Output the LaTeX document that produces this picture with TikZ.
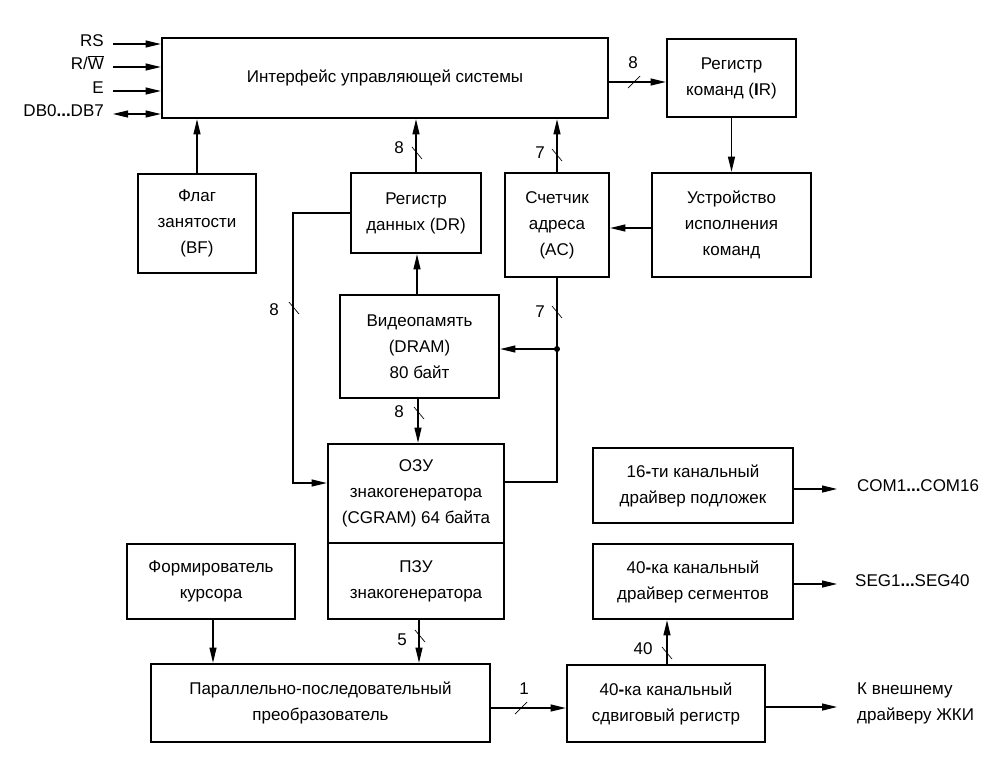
\documentclass[tikz,border=0pt]{standalone}
\usepackage{fontspec}
\setmainfont{Liberation Sans}
\usetikzlibrary{arrows.meta}
\begin{document}
\begin{tikzpicture}[x=1pt,y=-1pt,
  box/.style={draw, line width=2.6pt, align=center, inner sep=0pt, font=\fontsize{17}{26}\selectfont},
  conn/.style={line width=1.2pt},
  arr/.style={conn, -{Triangle[length=15pt,width=7pt]}},
  darr/.style={conn, {Triangle[length=15pt,width=7pt]}-{Triangle[length=15pt,width=7pt]}},
  lbl/.style={font=\fontsize{17}{26}\selectfont, inner sep=0pt, align=left},
  slash/.style={line width=0.7pt}]
\useasboundingbox (0,0) rectangle (1002,764);
\newcommand\slv[1]{\draw[slash] ([shift={(-5,-6)}]#1) -- ([shift={(5,6)}]#1);}
\newcommand\slh[1]{\draw[slash] ([shift={(-6,6)}]#1) -- ([shift={(6,-6)}]#1);}

% boxes
\node[box, minimum width=446pt, minimum height=80pt] (iface) at (385,78) {Интерфейс управляющей системы};
\node[box, minimum width=129pt, minimum height=78pt] (ir) at (731.5,78) {Регистр\\команд (\textbf{I}R)};
\node[box, minimum width=118pt, minimum height=99pt] (bf) at (197,223.5) {Флаг\\занятости\\(BF)};
\node[box, minimum width=130pt, minimum height=80pt] (dr) at (416,213) {Регистр\\данных (DR)};
\node[box, minimum width=104pt, minimum height=104pt] (ac) at (557,225) {Счетчик\\адреса\\(AC)};
\node[box, minimum width=159pt, minimum height=104pt] (exec) at (731.5,225) {Устройство\\исполнения\\команд};
\node[box, minimum width=159pt, minimum height=103pt] (vid) at (419.5,346.5) {Видеопамять\\(DRAM)\\80 байт};
\node[box, minimum width=176pt, minimum height=99pt] (ozu) at (416,493.5) {ОЗУ\\знакогенератора\\(CGRAM) 64 байта};
\node[box, minimum width=176pt, minimum height=76pt] (pzu) at (416,581) {ПЗУ\\знакогенератора};
\node[box, minimum width=168pt, minimum height=75pt] (cur) at (211,581.5) {Формирователь\\курсора};
\node[box, minimum width=339pt, minimum height=78pt] (par) at (320.5,703) {Параллельно-последовательный\\преобразователь};
\node[box, minimum width=198pt, minimum height=77pt] (shift) at (666,703.5) {40\textbf{-}ка канальный\\сдвиговый регистр};
\node[box, minimum width=200pt, minimum height=75pt] (d16) at (693,485.5) {16\textbf{-}ти канальный\\драйвер подложек};
\node[box, minimum width=200pt, minimum height=75pt] (d40) at (693,581.5) {40\textbf{-}ка канальный\\драйвер сегментов};

% input signals
\coordinate (rs) at (113,44);
\coordinate (rw) at (113,67);
\coordinate (en) at (113,91);
\coordinate (db) at (113,114);
\node[lbl, anchor=mid east] (rst) at (104,44) {RS};
\node[lbl, anchor=mid east] (rwt) at (104,67) {R/$\overline{\hbox{W}}$};
\node[lbl, anchor=mid east] (ent) at (104,91) {E};
\node[lbl, anchor=mid east] (dbt) at (104,114) {DB0\textbf{...}DB7};
\draw[arr] (rs) -- (rs -| iface.west);
\draw[arr] (rw) -- (rw -| iface.west);
\draw[arr] (en) -- (en -| iface.west);
\draw[darr] (db) -- (db -| iface.west);

% interface -> IR
\coordinate (a1) at (iface.east |- 0,82);
\draw[arr] (a1) -- (a1 -| ir.west);
\coordinate (s1) at (634,82); \slh{s1}
\node[lbl] (l1) at (633,63) {8};

% IR -> exec
\draw[arr] (ir.south) -- (exec.north);
% exec -> AC
\coordinate (a2) at (exec.west |- 0,228);
\draw[arr] (a2) -- (a2 -| ac.east);

% BF, DR, AC -> interface
\draw[arr] (bf.north) -- (bf.north |- iface.south);
\draw[arr] (dr.north) -- (dr.north |- iface.south);
\coordinate (s2) at (417,153); \slv{s2}
\node[lbl] (l2) at (399,148) {8};
\draw[arr] (ac.north) -- (ac.north |- iface.south);
\coordinate (s3) at (557,155); \slv{s3}
\node[lbl] (l3) at (540,153) {7};

% AC -> videomemory, OZU
\coordinate (dot) at (557,349);
\draw[conn] (ac.south) -- (dot);
\draw[arr] (dot) -- (dot -| vid.east);
\draw[conn] (ozu.east |- 0,482) -| (dot);
\fill (dot) circle (3pt);
\coordinate (s4) at (557,312); \slv{s4}
\node[lbl] (l4) at (540,312) {7};

% videomemory -> DR
\coordinate (vx) at (417,0);
\draw[arr] (vx |- vid.north) -- (vx |- dr.south);

% DR -> OZU (left loop)
\coordinate (lt) at (293,213);
\draw[arr] (dr.west |- lt) -- (lt) |- (ozu.west |- 0,483);
\coordinate (s5) at (294,308); \slv{s5}
\node[lbl] (l5) at (274,310) {8};

% videomemory -> OZU
\coordinate (vx2) at (418,0);
\draw[arr] (vx2 |- vid.south) -- (vx2 |- ozu.north);
\coordinate (s6) at (419,413); \slv{s6}
\node[lbl] (l6) at (399,412) {8};

% PZU -> par
\coordinate (px) at (419,0);
\draw[arr] (px |- pzu.south) -- (px |- par.north);
\coordinate (s7) at (420,636); \slv{s7}
\node[lbl] (l7) at (402,640) {5};

% cursor -> par
\coordinate (cx) at (213,0);
\draw[arr] (cx |- cur.south) -- (cx |- par.north);

% par -> shift
\coordinate (a3) at (par.east |- 0,708);
\draw[arr] (a3) -- (a3 -| shift.west);
\coordinate (s8) at (521,708); \slh{s8}
\node[lbl] (l8) at (524,689) {1};

% shift -> d40
\coordinate (sx) at (667,0);
\draw[arr] (sx |- shift.north) -- (sx |- d40.south);
\coordinate (s9) at (667,653); \slv{s9}
\node[lbl] (l9) at (643,649) {40};

% outputs
\coordinate (o1) at (837,489);
\coordinate (o2) at (837,584);
\coordinate (o3) at (837,707);
\draw[arr] (o1 -| d16.east) -- (o1);
\draw[arr] (o2 -| d40.east) -- (o2);
\draw[arr] (o3 -| shift.east) -- (o3);
\node[lbl, anchor=mid west] (t1) at (857,489) {COM1\textbf{...}COM16};
\node[lbl, anchor=mid west] (t2) at (855,584) {SEG1\textbf{...}SEG40};
\node[lbl, anchor=west] (t3) at (857,703) {К внешнему\\драйверу ЖКИ};
\end{tikzpicture}
\end{document}
